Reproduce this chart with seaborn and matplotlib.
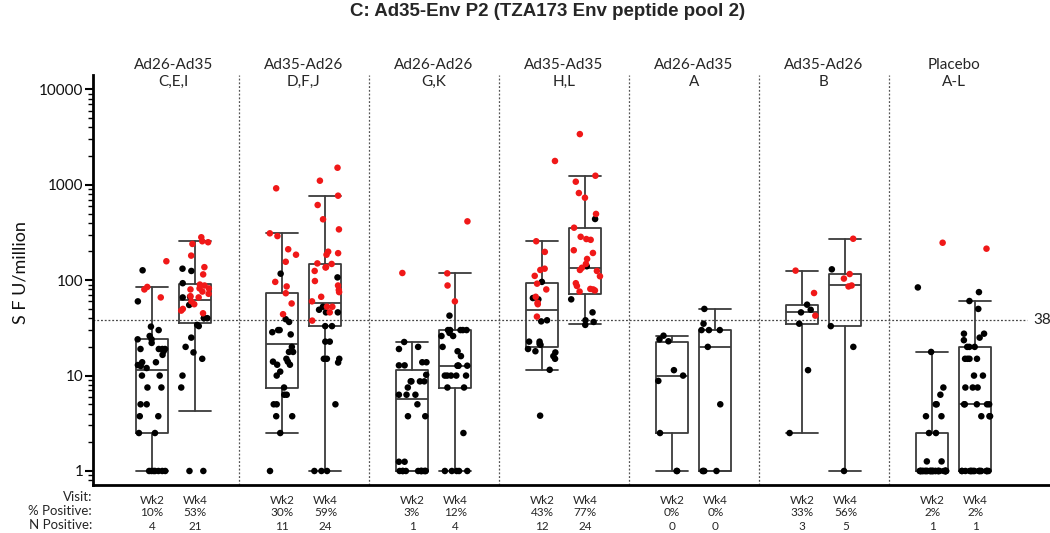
import numpy as np
import pandas as pd
import matplotlib
matplotlib.use("Agg")
import matplotlib.pyplot as plt
import seaborn as sns
from matplotlib import transforms
from matplotlib.ticker import FixedLocator, FixedFormatter, LogLocator, NullFormatter

# ---------------- data (SFU / million) ----------------
title = "C: Ad35-Env P2 (TZA173 Env peptide pool 2)"
group_line1 = ["Ad26-Ad35", "Ad35-Ad26", "Ad26-Ad26", "Ad35-Ad35", "Ad26-Ad35", "Ad35-Ad26", "Placebo"]
group_line2 = ["C,E,I", "D,F,J", "G,K", "H,L", "A", "B", "A-L"]
visits = ["Wk2", "Wk4"]
pct_positive = ["10%", "53%", "30%", "59%", "3%", "12%", "43%", "77%", "0%", "0%", "33%", "56%", "2%", "2%"]
n_positive = ["4", "21", "11", "24", "1", "4", "12", "24", "0", "0", "3", "5", "1", "1"]
threshold = 38

g1_wk2_pos = [158, 85, 80, 66]
g1_wk2_neg = [127, 60, 32.6, 30, 26, 24, 24, 22, 19, 19, 19, 19, 18, 16.5, 13.8, 13.8, 12.9, 12.6, 12,
              10, 10, 7.5, 7.5, 5, 5, 3.75, 3.75, 2.5, 2.5, 1, 1, 1, 1, 1, 1, 1]
g1_wk4_pos = [282, 256, 250, 240, 181, 137, 115, 90, 88, 82, 82, 80, 76, 72, 68, 66, 60, 56, 50, 48, 45]
g1_wk4_neg = [132, 125, 93, 67, 66, 55, 40, 40, 40, 34, 33, 25, 20, 17.5, 15, 10, 7.5, 1, 1]

g2_wk2_pos = [919, 310, 290, 211, 185, 156, 96, 86, 73, 57, 44]
g2_wk2_neg = [117, 39, 36.5, 30, 30, 28.5, 27, 20, 17.7, 17.7, 15, 14, 14, 13, 13, 11, 10, 7.5, 6.3, 6.3,
              5, 5, 3.75, 3.75, 2.5, 1]
g2_wk4_pos = [1510, 1104, 769, 614, 435, 341, 199, 192, 185, 150, 148, 137, 136, 125, 98, 88, 79, 75, 67,
              60, 52.7, 52.7, 46, 37.7]
g2_wk4_neg = [107, 52.7, 49, 46, 46, 33, 33, 22.7, 22.7, 15, 15, 15, 13.7, 5, 1, 1, 1]

g3_wk2_pos = [119]
g3_wk2_neg = [22.5, 20, 19, 13.8, 13.8, 12.8, 12.8, 10.2, 8.7, 8.7, 8.7, 8.7, 7.5, 6.3, 6.3, 6.3, 5,
              3.75, 3.75, 1.25, 1.25, 1, 1, 1, 1, 1, 1, 1, 1, 1, 1, 1]
g3_wk4_pos = [414, 118, 88, 60]
g3_wk4_neg = [42.5, 30, 30, 30, 30, 30, 28, 26, 26, 20, 18, 16, 12.7, 12.7, 12.7, 12.7, 10, 10, 10, 10,
              10, 7.5, 7.5, 2.5, 1, 1, 1, 1, 1]

g4_wk2_pos = [1777, 256, 198, 132, 128, 111, 92, 80, 67, 58, 56, 41.5]
g4_wk2_neg = [96, 65, 63, 38, 37, 22.7, 22.7, 21.5, 21, 19, 18, 17.5, 16, 15, 11.5, 3.8]
g4_wk4_pos = [3400, 1245, 1078, 820, 732, 495, 355, 285, 270, 265, 206, 193, 167, 148, 135, 128, 125,
              110, 93, 87, 81, 80, 78, 76]
g4_wk4_neg = [438, 140, 63, 46, 38, 36.5, 34]

g5_wk2_pos = []
g5_wk2_neg = [26.2, 24, 22.9, 11.4, 10, 8.8, 2.5, 1, 1]
g5_wk4_pos = []
g5_wk4_neg = [50, 35, 30, 30, 30, 20, 5, 1, 1, 1, 1]

g6_wk2_pos = [126, 73.4, 42.5]
g6_wk2_neg = [55.4, 49, 46, 35, 11.4, 2.5]
g6_wk4_pos = [272, 116, 104, 88, 86]
g6_wk4_neg = [130, 33, 20, 1]

g7_wk2_pos = [247]
g7_wk2_neg = [84, 17.7, 7.5, 6.3, 5, 5, 3.75, 3.75, 2.5, 2.5, 1.26, 1.26,
              1, 1, 1, 1, 1, 1, 1, 1, 1, 1, 1, 1, 1, 1, 1, 1,
              1, 1, 1, 1, 1, 1, 1, 1, 1, 1, 1, 1, 1, 1, 1, 1]
g7_wk4_pos = [214]
g7_wk4_neg = [75, 60.5, 50, 27.5, 27.5, 25, 23.5, 20, 20, 20, 15, 15, 15, 15, 10, 10, 7.5, 7.5, 7.5,
              5, 5, 5, 5, 5, 3.75, 3.75, 3.75,
              1, 1, 1, 1, 1, 1, 1, 1, 1, 1, 1, 1, 1, 1, 1, 1, 1]

# box summaries (order: g1 wk2, g1 wk4, g2 wk2, ...)
box_q1 = [2.5, 35.3, 7.5, 33, 1, 7.5, 20, 72, 2.5, 1, 35, 32.9, 1, 1]
box_med = [11.4, 62, 21.6, 58, 5.7, 12.7, 48.3, 135, 10, 20, 46.8, 88, 1, 5]
box_q3 = [24, 91, 72.8, 149, 11.4, 30, 94, 355, 22.3, 30.3, 55.4, 116, 2.5, 20]
box_lo = [1, 4.26, 2.5, 1, 1, 1, 11.5, 35, 1, 1, 2.5, 1, 1, 1]
box_hi = [85.5, 256, 310, 769, 22.5, 118, 256, 1245, 26.2, 50, 126, 272, 17.7, 60.5]

series = [
    (g1_wk2_pos, g1_wk2_neg), (g1_wk4_pos, g1_wk4_neg),
    (g2_wk2_pos, g2_wk2_neg), (g2_wk4_pos, g2_wk4_neg),
    (g3_wk2_pos, g3_wk2_neg), (g3_wk4_pos, g3_wk4_neg),
    (g4_wk2_pos, g4_wk2_neg), (g4_wk4_pos, g4_wk4_neg),
    (g5_wk2_pos, g5_wk2_neg), (g5_wk4_pos, g5_wk4_neg),
    (g6_wk2_pos, g6_wk2_neg), (g6_wk4_pos, g6_wk4_neg),
    (g7_wk2_pos, g7_wk2_neg), (g7_wk4_pos, g7_wk4_neg),
]

# ---------------- layout ----------------
GROUP_STEP = 3.0
xpos = [(i // 2) * GROUP_STEP + (-0.5 if i % 2 == 0 else 0.5) for i in range(len(series))]

rows = []
for x, (pos, neg) in zip(xpos, series):
    for v in neg:
        rows.append((x, v, "neg"))
    for v in pos:
        rows.append((x, v, "pos"))
df = pd.DataFrame(rows, columns=["x", "sfu", "status"])

sns.set_theme(style="white")
plt.rcParams["font.family"] = ["Lato", "DejaVu Sans"]

W, H = 1050, 533
fig = plt.figure(figsize=(W / 100, H / 100), dpi=100)
ax = fig.add_axes([93 / W, 1 - 485 / H, (W - 93) / W, (485 - 75) / H])
ax.set_yscale("log")

box_col = "#3c3c3c"
stats = []
for i in range(len(series)):
    stats.append(dict(q1=box_q1[i], med=box_med[i], q3=box_q3[i],
                      whislo=box_lo[i], whishi=box_hi[i], fliers=[]))
lp = dict(color=box_col, linewidth=1.3)
ax.bxp(stats, positions=xpos, widths=0.74, capwidths=0.74, showfliers=False,
       boxprops=lp, whiskerprops=lp, capprops=lp, medianprops=lp, manage_ticks=False)

np.random.seed(11)
sns.stripplot(data=df, x="x", y="sfu", hue="status",
              palette={"pos": "#f01818", "neg": "black"},
              hue_order=["neg", "pos"], native_scale=True, jitter=0.34,
              size=4.7, linewidth=0, legend=False, ax=ax, zorder=3)

xl, xr = -1.862, 20.22
ax.set_xlim(xl, xr)
ax.set_ylim(0.713, 14160)

# separators and threshold
for g in range(6):
    ax.axvline(g * GROUP_STEP + 1.5, color="#555555", linestyle=(0, (1.5, 1.5)), linewidth=0.9, zorder=1)
ax.hlines(threshold, xl, 19.69, color="#444444", linestyles=(0, (1.5, 1.5)), linewidth=0.9, zorder=1)
ax.text(19.83, threshold, str(threshold), ha="left", va="center", fontsize=11, color="#222222")

# axes styling
for s in ["top", "right"]:
    ax.spines[s].set_visible(False)
for s in ["left", "bottom"]:
    ax.spines[s].set_color("black")
    ax.spines[s].set_linewidth(2)
ax.set_xticks([])
ax.set_xlabel("")
ax.set_ylabel("")
ax.yaxis.set_major_locator(FixedLocator([1, 10, 100, 1000, 10000]))
ax.yaxis.set_major_formatter(FixedFormatter(["1", "10", "100", "1000", "10000"]))
ax.yaxis.set_minor_locator(LogLocator(base=10, subs=np.arange(2, 10)))
ax.yaxis.set_minor_formatter(NullFormatter())
ax.tick_params(axis="y", which="major", left=True, direction="out", length=6, width=1.5,
               color="black", labelsize=11, pad=1, labelcolor="#111111")
ax.tick_params(axis="y", which="minor", left=True, direction="out", length=3.5, width=1, color="black")

# texts
fig.text(548 / W, 1 - 11 / H, title, ha="center", va="center", fontsize=13.5,
         fontweight="bold", family=["Liberation Sans", "DejaVu Sans"])
fig.text(20 / W, 1 - 273 / H, "S F U/million", rotation=90, ha="center", va="center",
         fontsize=13, color="#111111")

trans = transforms.blended_transform_factory(ax.transData, fig.transFigure)
for g in range(7):
    cx = g * GROUP_STEP
    ax.text(cx, 1 - 65 / H, group_line1[g], transform=trans, ha="center", va="center", fontsize=11)
    ax.text(cx, 1 - 82 / H, group_line2[g], transform=trans, ha="center", va="center", fontsize=11)

for lab, yy in zip(["Visit:", "% Positive:", "N Positive:"], [497, 511, 525]):
    fig.text(92 / W, 1 - yy / H, lab, ha="right", va="center", fontsize=9.5)

for i, x in enumerate(xpos):
    ax.text(x, 1 - 500 / H, visits[i % 2], transform=trans, ha="center", va="center", fontsize=8.5)
    ax.text(x, 1 - 513 / H, pct_positive[i], transform=trans, ha="center", va="center", fontsize=8.5)
    ax.text(x, 1 - 527 / H, n_positive[i], transform=trans, ha="center", va="center", fontsize=8.5)

fig.savefig("out.png", dpi=100)
